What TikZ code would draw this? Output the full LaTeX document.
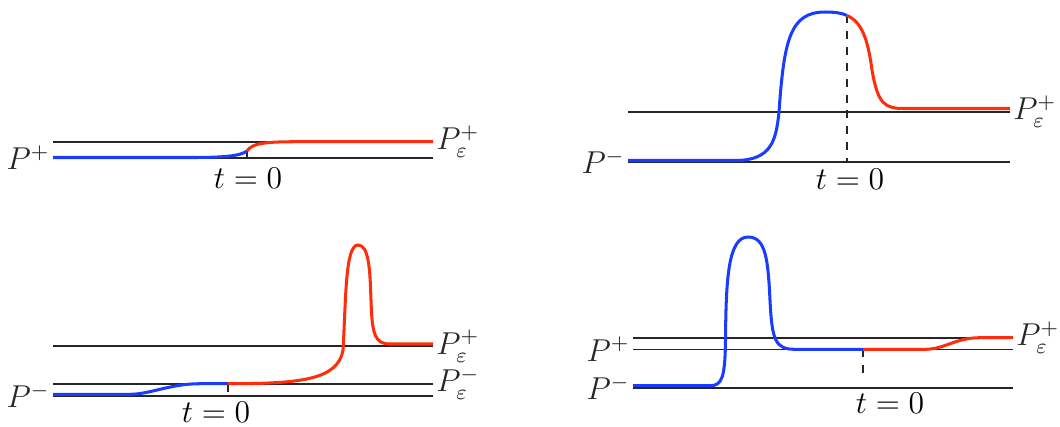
\documentclass[tikz,border=0pt]{standalone}
\usepackage{amsmath}
\definecolor{orbitblue}{RGB}{25,60,255}
\definecolor{orbitred}{RGB}{255,45,10}

\begin{document}
\begin{tikzpicture}[
  x=0.1333mm, y=-0.1333mm,
  font=\large,
  level/.style={black!85,line width=0.6pt},
  upath/.style={orbitblue,line width=1.15pt},
  spath/.style={orbitred,line width=1.15pt},
  tzero/.style={black!85,line width=0.5pt},
  tzerodash/.style={tzero,dashed},
  lab/.style={inner sep=1pt},
  tlab/.style={anchor=north,inner sep=0pt},
]
\useasboundingbox (0,0) rectangle (1060,426);

% panel 1 (top left)
\coordinate (a0) at (247,151);
\draw[level] (53,141.7) -- (433,141.7) node[lab,right] (a-eps) {$P_\varepsilon^+$};
\draw[level] (433,157.7) -- (53,157.7) node[lab,left] (a-plus) {$P^+$};
\draw[tzero] (a0) -- (247,157.7);
\draw[upath] (53,157.5) -- (190,157.5) .. controls (225,157.5) and (240,156) .. (a0);
\draw[spath] (a0) .. controls (252,143) and (265,141.7) .. (300,141.7) -- (433,141.7);
\node[tlab] (a-t) at (248,168) {$t=0$};

% panel 2 (top right)
\coordinate (b0) at (847,15.5);
\draw[level] (628,111.7) -- (1010,111.7) node[lab,right] (b-eps) {$P_\varepsilon^+$};
\draw[level] (1010,161.7) -- (628,161.7) node[lab,left] (b-minus) {$P^-$};
\draw[tzerodash] (b0) -- (847,161.7);
\draw[upath] (628,160.5) -- (735,160.5)
  .. controls (772,160.5) and (776,140) .. (779,112)
  .. controls (784,40) and (790,12) .. (825,12)
  .. controls (835,12) and (842,13) .. (b0);
\draw[spath] (b0) .. controls (862,22) and (868,40) .. (872,70)
  .. controls (878,105) and (885,108.5) .. (905,108.5) -- (1010,108.5);
\node[tlab] (b-t) at (850,169) {$t=0$};

% panel 3 (bottom left)
\coordinate (c0) at (228,383.7);
\draw[level] (53,346) -- (433,346) node[lab,right] (c-eps-p) {$P_\varepsilon^+$};
\draw[level] (53,383.7) -- (433,383.7) node[lab,right] (c-eps-m) {$P_\varepsilon^-$};
\draw[level] (433,395.7) -- (53,395.7) node[lab,left] (c-minus) {$P^-$};
\draw[tzero] (c0) -- (228,392);
\draw[upath] (53,394.3) -- (130,394.3) .. controls (150,394.3) and (170,383.7) .. (200,383.7) -- (c0);
\draw[spath] (c0) .. controls (300,383.7) and (338,380) .. (343,350)
  .. controls (346,300) and (345,245) .. (358,245)
  .. controls (369,245) and (370,270) .. (371,300)
  .. controls (372,335) and (375,344) .. (390,344) -- (433,344);
\node[tlab] (c-t) at (216,402) {$t=0$};

% panel 4 (bottom right)
\coordinate (d0) at (863,349.3);
\draw[level] (633,337.7) -- (1013,337.7) node[lab,right] (d-eps) {$P_\varepsilon^+$};
\draw[level] (1013,349.3) -- (633,349.3) node[lab,left] (d-plus) {$P^+$};
\draw[level] (1013,387.7) -- (633,387.7) node[lab,left] (d-minus) {$P^-$};
\draw[tzerodash] (d0) -- (863,380);
\draw[upath] (633,385.7) -- (710,385.7)
  .. controls (722,385.7) and (725,378) .. (725.5,340)
  .. controls (726,280) and (728,237) .. (748,237)
  .. controls (766,237) and (768,260) .. (770,300)
  .. controls (772,340) and (775,349.3) .. (795,349.3) -- (d0);
\draw[spath] (d0) -- (925,349.3) .. controls (945,349.3) and (955,337.7) .. (980,337.7) -- (1013,337.7);
\node[tlab] (d-t) at (890,393) {$t=0$};

\end{tikzpicture}
\end{document}
